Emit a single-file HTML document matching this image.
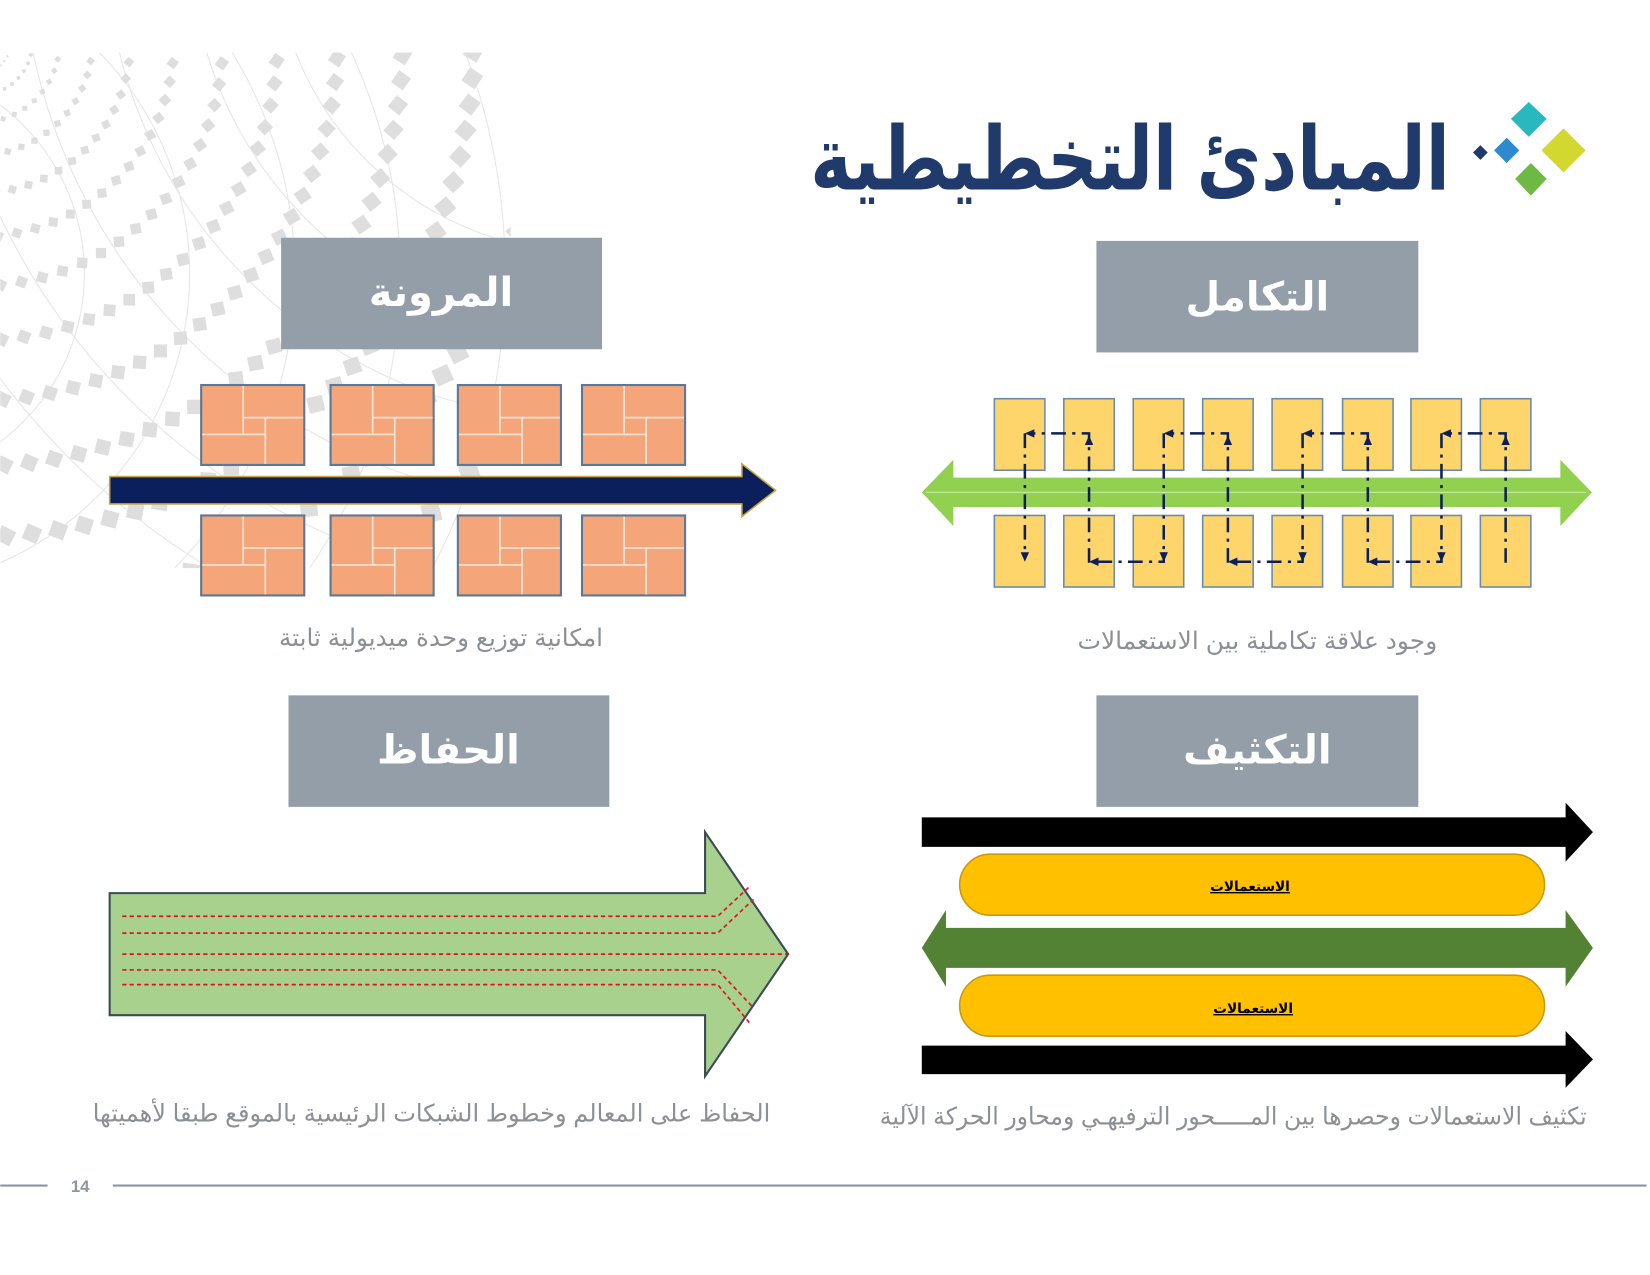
<!DOCTYPE html>
<html><head><meta charset="utf-8"><style>
html,body{margin:0;padding:0;background:#fff;}
svg{display:block;}
text{font-family:"Liberation Sans","Noto Sans CJK SC","DejaVu Sans",sans-serif;}
</style></head><body>
<svg id="s" width="1650" height="1275" viewBox="0 0 1568 1212" xmlns="http://www.w3.org/2000/svg">
<defs>
<clipPath id="bgc"><rect x="0" y="50" width="485" height="490"/></clipPath>
<g id="tile">
<rect x="0" y="0" width="98" height="76" fill="#f4a57a" stroke="#5b7896" stroke-width="2"/>
<g stroke="#fbe3d4" stroke-width="1.6">
<line x1="40" y1="1" x2="40" y2="47"/>
<line x1="40" y1="31" x2="97" y2="31"/>
<line x1="61" y1="31" x2="61" y2="75"/>
<line x1="1" y1="47" x2="61" y2="47"/>
</g>
</g>
<g id="ybox"><rect x="0" y="0" width="48" height="68" fill="#fdd56b" stroke="#6a8cac" stroke-width="1.5"/></g>
</defs>
<g id="bg" clip-path="url(#bgc)"></g>

<!-- title -->
<text x="770" y="180" font-size="84" font-weight="bold" fill="#203a6b" textLength="608" lengthAdjust="spacingAndGlyphs">المبادئ التخطيطية</text>
<polygon points="1453,97 1470,113 1453,130 1436,113" fill="#2ab7bd"/>
<polygon points="1486,122 1507,143 1486,164 1465,143" fill="#d2d830"/>
<polygon points="1432,131 1444,143 1432,155 1420,143" fill="#2e8ad0"/>
<polygon points="1455,155 1470,170 1455,186 1440,170" fill="#6db943"/>
<polygon points="1407,138 1414,145 1407,152 1400,145" fill="#203a6b"/>

<!-- headers -->
<rect x="267" y="226" width="305" height="106" fill="#939ea8"/>
<text x="419" y="291" text-anchor="middle" font-size="38" font-weight="bold" fill="#fff">المرونة</text>
<rect x="1042" y="229" width="306" height="106" fill="#939ea8"/>
<text x="1195" y="295" text-anchor="middle" font-size="38" font-weight="bold" fill="#fff">التكامل</text>
<rect x="274" y="661" width="305" height="106" fill="#939ea8"/>
<text x="426" y="726" text-anchor="middle" font-size="38" font-weight="bold" fill="#fff">الحفاظ</text>
<rect x="1042" y="661" width="306" height="106" fill="#939ea8"/>
<text x="1195" y="726" text-anchor="middle" font-size="38" font-weight="bold" fill="#fff">التكثيف</text>

<!-- tiles -->
<use href="#tile" x="191" y="366"/><use href="#tile" x="314" y="366"/><use href="#tile" x="435" y="366"/><use href="#tile" x="553" y="366"/>
<use href="#tile" x="191" y="490"/><use href="#tile" x="314" y="490"/><use href="#tile" x="435" y="490"/><use href="#tile" x="553" y="490"/>
<polygon points="104,453 705,453 705,441 737,466 705,491 705,479 104,479" fill="#0b1f5c" stroke="#c9a640" stroke-width="1.5"/>

<!-- yellow boxes -->
<g id="yb"></g>
<polygon points="876,468 906,437 906,454 1483,454 1483,437 1513,468 1483,500 1483,482 906,482 906,500" fill="#92d050"/>
<line x1="880" y1="468" x2="1508" y2="468" stroke="#c8ec9f" stroke-width="1"/>
<g id="dash" stroke="#0d1f55" stroke-width="2.4" fill="none" stroke-dasharray="14,6,3,6"></g>
<g id="heads" fill="#0d1f55"></g>

<!-- captions -->
<text x="265" y="614" font-size="23" fill="#8a9096" textLength="308" lengthAdjust="spacingAndGlyphs">امكانية توزيع وحدة ميديولية ثابتة</text>
<text x="1024" y="617" font-size="23" fill="#8a9096" textLength="342" lengthAdjust="spacingAndGlyphs">وجود علاقة تكاملية بين الاستعمالات</text>
<text x="88" y="1066" font-size="23" fill="#8a9096" textLength="644" lengthAdjust="spacingAndGlyphs">الحفاظ على المعالم وخطوط الشبكات الرئيسية بالموقع طبقا لأهميتها</text>
<text x="836" y="1069" font-size="23" fill="#8a9096" textLength="672" lengthAdjust="spacingAndGlyphs">تكثيف الاستعمالات وحصرها بين المـــــحور الترفيهـي ومحاور الحركة الآلية</text>

<!-- green big arrow -->
<polygon points="104,849 670,849 670,791 749,907 670,1023 670,965 104,965" fill="#a9d18e" stroke="#3d4a57" stroke-width="2"/>
<g stroke="#e0141e" stroke-width="1.6" stroke-dasharray="4,3" fill="none">
<polyline points="116,871 682,871 712,843"/>
<polyline points="116,887 682,887 716,855"/>
<polyline points="116,907 749,907"/>
<polyline points="116,922 682,922 716,958"/>
<polyline points="116,936 682,936 712,972"/>
</g>

<!-- right bottom -->
<polygon points="876,777 1488,777 1488,763 1514,791 1488,819 1488,805 876,805" fill="#000"/>
<polygon points="876,994 1488,994 1488,980 1514,1007 1488,1034 1488,1021 876,1021" fill="#000"/>
<rect x="912" y="812" width="556" height="58" rx="29" fill="#ffc000" stroke="#c89a10" stroke-width="1.5"/>
<rect x="912" y="927" width="556" height="58" rx="29" fill="#ffc000" stroke="#c89a10" stroke-width="1.5"/>
<text x="1188" y="847" text-anchor="middle" font-size="13" font-weight="bold" text-decoration="underline" fill="#000">الاستعمالات</text>
<text x="1191" y="963" text-anchor="middle" font-size="13" font-weight="bold" text-decoration="underline" fill="#000">الاستعمالات</text>
<polygon points="876,901 899,865 899,882 1488,882 1488,865 1514,901 1488,938 1488,920 899,920 899,938" fill="#548235"/>

<!-- footer -->
<line x1="0" y1="1127" x2="45" y2="1127" stroke="#8d979f" stroke-width="2"/>
<line x1="107" y1="1127" x2="1565" y2="1127" stroke="#8d979f" stroke-width="2"/>
<text x="76" y="1133" text-anchor="middle" font-size="16" font-weight="bold" fill="#8d979f">14</text>
</svg>
<script>
var NS="http://www.w3.org/2000/svg";
function el(t,a,p){var e=document.createElementNS(NS,t);for(var k in a)e.setAttribute(k,a[k]);p.appendChild(e);return e;}
var bg=document.getElementById('bg');
var cx=-20,cy=40;
[180,260,340,420,500,580].forEach(function(R){el('circle',{cx:560,cy:-60,r:R+120,fill:'none',stroke:'#e6e6e6','stroke-width':1},bg);});
[200,300,400,500,600].forEach(function(R){el('circle',{cx:-120,cy:260,r:R,fill:'none',stroke:'#e6e6e6','stroke-width':1},bg);});
for(var i=0;i<14;i++){var rr=30+i*i*2.6+i*18;var s=2+i*1.3;
 var n=Math.floor(rr/20)+8;
 for(var j=0;j<=n;j++){var a=(-5+j*95/n)*Math.PI/180;var x=cx+rr*Math.cos(a),y=cy+rr*Math.sin(a);
  if(x<-10||y<40)continue;
  el('rect',{x:x-s/2,y:y-s/2,width:s,height:s,fill:'#dedede',transform:'rotate('+(a*180/Math.PI+30)+' '+x+' '+y+')'},bg);}}
var xs=[945,1011,1077,1143,1209,1276,1341,1407];
var yb=document.getElementById('yb');
xs.forEach(function(x){el('use',{href:'#ybox',x:x,y:379},yb);el('use',{href:'#ybox',x:x,y:490},yb);});
var d=document.getElementById('dash'),h=document.getElementById('heads');
for(var p=0;p<4;p++){var L=xs[2*p]+29,R=xs[2*p+1]+24;
 el('polyline',{points:(L)+',412 '+L+',525'},d);
 el('polyline',{points:R+',535 '+R+',412 '+(L+8)+',412'},d);
 el('polygon',{points:(L)+',412 '+(L+9)+',408 '+(L+9)+',416'},h);
 el('polygon',{points:R+',414 '+(R-4)+',423 '+(R+4)+',423'},h);
 el('polygon',{points:L+',534 '+(L-4)+',525 '+(L+4)+',525'},h);}
for(var p=0;p<3;p++){var A=xs[2*p+1]+24,B=xs[2*p+2]+29;
 el('polyline',{points:B+',525 '+B+',534 '+(A+8)+',534'},d);
 el('polygon',{points:A+',534 '+(A+9)+',530 '+(A+9)+',538'},h);}
</script>
</body></html>
